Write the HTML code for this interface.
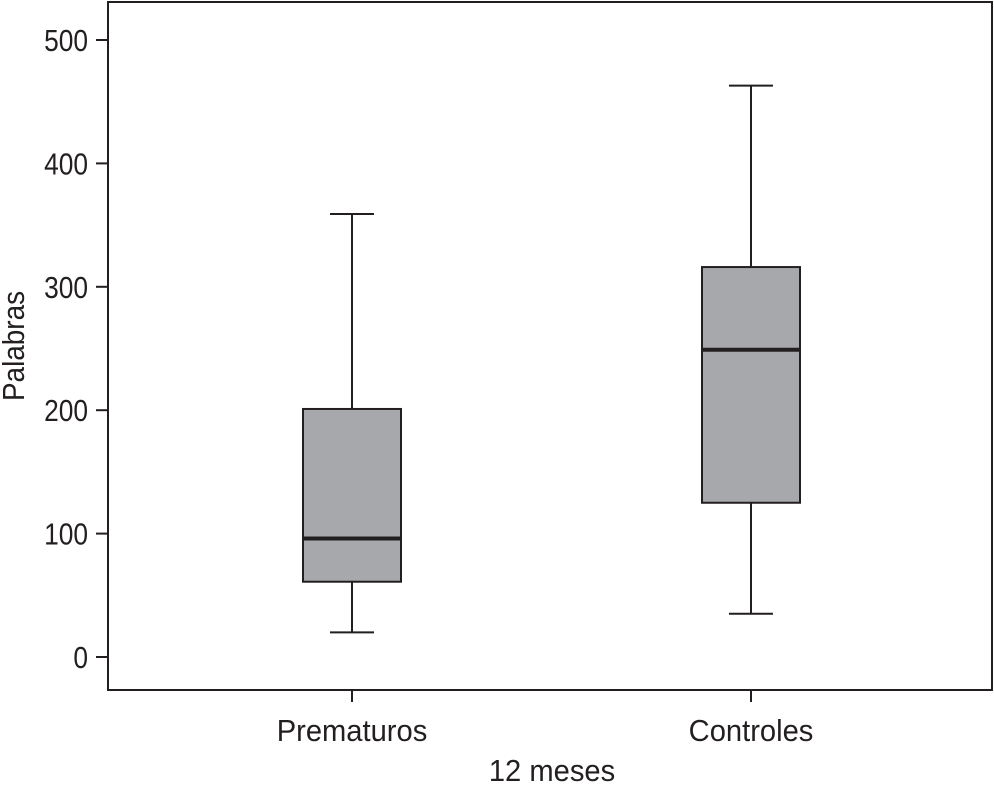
<!DOCTYPE html>
<html><head><meta charset="utf-8"><style>
html,body{margin:0;padding:0;background:#fff;}
svg{display:block;}
text{font-family:"Liberation Sans Narrow","Liberation Sans",sans-serif;fill:#231f20;}
</style></head><body>
<svg id="chart" width="994" height="785" viewBox="0 0 994 785"></svg>
<script>
const categories = ["Prematuros", "Controles"];
const whiskerLow = [20, 35];
const q1Values = [61, 125];
const medians = [96, 249];
const q3Values = [201, 316];
const whiskerHigh = [359, 463];
const yTicks = [0, 100, 200, 300, 400, 500];

const NS = "http://www.w3.org/2000/svg";
const svg = document.getElementById("chart");
const L = 108, T = 2, R = 992, B = 690;
const y = v => 657 - v * 1.234;
const x = i => 352 + i * 399;
function mk(tag, attrs, parent) {
  const e = document.createElementNS(NS, tag);
  for (const k in attrs) e.setAttribute(k, attrs[k]);
  (parent || svg).appendChild(e);
  return e;
}
const frame = mk("rect", {x: L, y: T, width: R - L, height: B - T, fill: "none", stroke: "#231f20", "stroke-width": 2});



yTicks.forEach(t => {
  const g = mk("g", {});
  
  
  mk("line", {x1: 96, x2: L, y1: y(t), y2: y(t), stroke: "#231f20", "stroke-width": 2}, g);
  const tx = mk("text", {x: 0, y: 0, "text-anchor": "end", "font-size": 31}, g);
  tx.setAttribute("transform", "translate(88," + (y(t) + 11) + ") scale(0.85,1)");
  tx.textContent = t;
});

const yt = mk("text", {"text-anchor": "middle", "font-size": 31, transform: "translate(24,346) rotate(-90) scale(0.9,1)"});


yt.textContent = "Palabras";

categories.forEach((c, i) => {
  const cx = x(i), hw = 49, cw = 22;
  const g = mk("g", {});
  
  
  const s = {stroke: "#231f20", "stroke-width": 2};
  mk("line", Object.assign({x1: cx, x2: cx, y1: y(whiskerHigh[i]), y2: y(q3Values[i])}, s), g);
  mk("line", Object.assign({x1: cx, x2: cx, y1: y(q1Values[i]), y2: y(whiskerLow[i])}, s), g);
  mk("line", Object.assign({x1: cx - cw, x2: cx + cw, y1: y(whiskerHigh[i]), y2: y(whiskerHigh[i])}, s), g);
  mk("line", Object.assign({x1: cx - cw, x2: cx + cw, y1: y(whiskerLow[i]), y2: y(whiskerLow[i])}, s), g);
  mk("rect", Object.assign({x: cx - hw, y: y(q3Values[i]), width: hw * 2, height: y(q1Values[i]) - y(q3Values[i]), fill: "#a7a8ac"}, s), g);
  mk("line", {x1: cx - hw, x2: cx + hw, y1: y(medians[i]), y2: y(medians[i]), stroke: "#231f20", "stroke-width": 4}, g);
  mk("line", Object.assign({x1: cx, x2: cx, y1: B, y2: B + 12}, s), g);
  const lt = mk("text", {"text-anchor": "middle", "font-size": 31, transform: "translate(" + cx + ",741) scale(0.94,1)"});
  
  
  lt.textContent = c;
});

const xt = mk("text", {"text-anchor": "middle", "font-size": 31, transform: "translate(552,781) scale(0.94,1)"});


xt.textContent = "12 meses";
</script>
</body></html>
